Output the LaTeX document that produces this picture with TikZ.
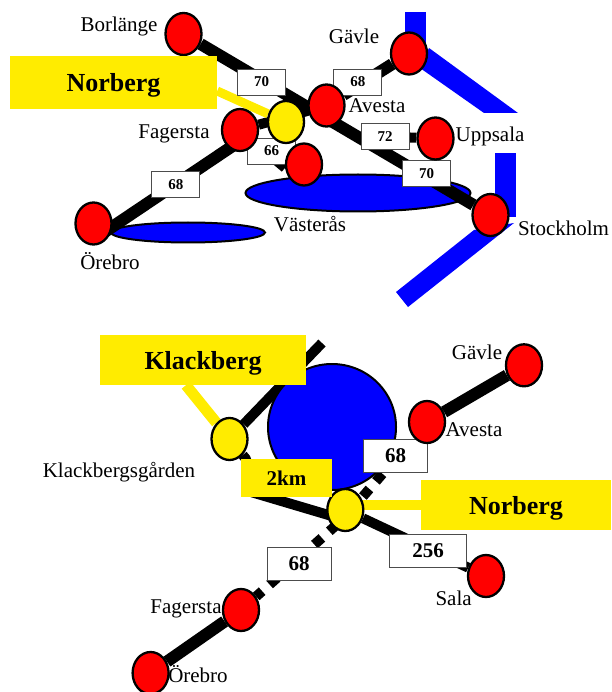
\documentclass[tikz,border=0pt]{standalone}
\usepackage{fontspec}
\setmainfont{Liberation Serif}
\usetikzlibrary{shapes.geometric}
\definecolor{stnred}{RGB}{255,0,0}
\definecolor{stnyel}{RGB}{255,236,0}
\definecolor{watblu}{RGB}{0,0,255}
\newcommand{\railw}{12pt}
\newcommand{\spurw}{10pt}
\pgfdeclarelayer{water}
\pgfdeclarelayer{rails}
\pgfsetlayers{water,rails,main}
\tikzset{
    station/.style={ellipse, draw=black, line width=2.3pt, fill=stnred, minimum width=36pt, minimum height=42pt, inner sep=0pt},
    halt/.style={station, fill=stnyel},
    lake/.style={ellipse, draw=black, line width=2pt, fill=watblu, inner sep=0pt},
    river/.style={fill=watblu},
    rail/.style={draw=black, line width=\railw, line join=round},
    spur/.style={rail, line width=\spurw},
    callout/.style={fill=stnyel, inner sep=0pt, text depth=0pt, font=\bfseries\fontsize{26}{26}\selectfont},
    feeder/.style={draw=stnyel, line width=10pt},
    gauge/.style={draw=black!70, line width=0.7pt, fill=white, inner sep=0pt, minimum width=48pt, minimum height=26pt, font=\bfseries\fontsize{15}{15}\selectfont},
    biggauge/.style={gauge, minimum width=64pt, minimum height=33pt, font=\bfseries\fontsize{21}{21}\selectfont},
    town/.style={inner sep=0pt, text depth=0pt, font=\fontsize{21}{21}\selectfont}
}
\begin{document}
\begin{tikzpicture}[x=1pt,y=-1pt]
    \useasboundingbox (0,0) rectangle (611,692);
    % upper map
    \node[gauge] (g70a) at (261.7,82) {70};
    \node[gauge] (g68a) at (357.8,82) {68};
    \node[gauge] (g72) at (385,136.5) {72};
    \node[gauge] (g70b) at (426.5,173.3) {70};
    \node[gauge] (g66) at (271.5,151) {66};
    \node[gauge] (g68b) at (175.8,184.7) {68};
    \node[station] (borl) at (183.5,34) {};
    \node[station] (gavl) at (409,53.5) {};
    \node[station] (aves) at (326.5,105.5) {};
    \node[station] (upps) at (435.5,138.5) {};
    \node[station] (fage) at (240,130) {};
    \node[station] (vast) at (304,164.5) {};
    \node[station] (stho) at (490.5,215) {};
    \node[station] (oreb) at (93.5,223.5) {};
    \node[halt] (norb) at (286,122) {};
    \node[callout, minimum width=207pt, minimum height=53pt] (norbbox) at (113.5,82.5) {Norberg};
    \node[town] (borllab) at (119,24) {Borlänge};
    \node[town] (gavllab) at (354,36) {Gävle};
    \node[town] (aveslab) at (377,106) {Avesta};
    \node[town] (fagelab) at (174,132) {Fagersta};
    \node[town] (uppslab) at (490,134) {Uppsala};
    \node[town] (vastlab) at (310,224) {Västerås};
    \node[town] (stholab) at (563.5,228) {Stockholm};
    \node[town] (oreblab) at (110,261) {Örebro};
    \begin{pgfonlayer}{water}
        \fill[river] (405,12) -- (426,12) -- (426,55) -- (405,55) -- cycle;
        \fill[river] (429,48) -- (518,113) -- (484,113) -- (420,68) -- cycle;
        \fill[river] (495,153) -- (516,153) -- (516,217) -- (495,217) -- cycle;
        \fill[river] (514,223) -- (408,307) -- (396,292) -- (474,230) -- cycle;
        \node[lake, minimum width=225pt, minimum height=37pt] (malaren) at (358,193) {};
        \node[lake, minimum width=154pt, minimum height=20pt] (hjalmaren) at (188,232.5) {};
    \end{pgfonlayer}
    \begin{pgfonlayer}{rails}
        \draw[rail] (borl) -- (stho);
        \draw[rail] (gavl) -- (aves);
        \draw[spur] (fage) -- (aves);
        \draw[spur] (g72) -- (upps);
        \draw[spur] (fage) -- (vast.-170);
        \draw[rail] ([yshift=-16pt]oreb.center) -- ([yshift=-11pt]fage.center);
        \draw[feeder, line width=9pt] ([yshift=-8.5pt]norbbox.east) -- (norb);
    \end{pgfonlayer}
    % lower map
    \node[biggauge] (g68c) at (395.5,455.5) {68};
    \node[biggauge] (g68d) at (299,563.7) {68};
    \node[biggauge, minimum width=77pt] (g256) at (428,551) {256};
    \node[station] (gavl2) at (524,365.3) {};
    \node[station] (aves2) at (427,422) {};
    \node[station] (sala) at (486,576) {};
    \node[station] (fage2) at (241,610) {};
    \node[station] (oreb2) at (150.6,673) {};
    \node[halt] (klackg) at (229.5,439) {};
    \node[halt] (norb2) at (345.3,510) {};
    \node[callout, minimum width=206pt, minimum height=50pt] (klackbox) at (203,360) {Klackberg};
    \node[callout, minimum width=190pt, minimum height=50pt] (norb2box) at (516,505) {Norberg};
    \node[callout, minimum width=91pt, minimum height=38pt, font=\bfseries\fontsize{21}{21}\selectfont] (kmbox) at (286.5,478) {2km};
    \node[town] (gavl2lab) at (477,352) {Gävle};
    \node[town] (aves2lab) at (474,430) {Avesta};
    \node[town] (klacklab) at (119,470) {Klackbergsgården};
    \node[town] (salalab) at (453.6,598) {Sala};
    \node[town] (fage2lab) at (186,607) {Fagersta};
    \node[town] (oreb2lab) at (198,674) {Örebro};
    \coordinate (klacktop) at (322,343);
    \coordinate (bendA) at (246,459);
    \coordinate (bendB) at (251,492);
    \coordinate (norbend) at ([yshift=-7pt]norb2.center);
    \begin{pgfonlayer}{water}
        \draw[spur] (klackg) -- (klacktop);
        \node[lake, minimum width=128pt, minimum height=126pt] (sjon) at (332,427) {};
    \end{pgfonlayer}
    \begin{pgfonlayer}{rails}
        \draw[rail] (gavl2) -- (aves2);
        \draw[rail] (oreb2) -- (fage2);
        \draw[spur, dash pattern=on 10pt off 10pt, dash phase=2pt] (fage2) -- (norbend);
        \draw[spur, dash pattern=on 10pt off 10pt, dash phase=13pt] (norbend) -- (aves2);
        \draw[spur] (klackg) -- (bendA) -- (bendB) -- ([yshift=-10pt]norb2.center);
        \draw[spur] (norb2) -- (sala);
        \draw[feeder, line width=11pt] ([xshift=-17pt]klackbox.south) -- (klackg);
        \draw[feeder] (norb2box.west) -- (norb2 |- norb2box.west);
    \end{pgfonlayer}
\end{tikzpicture}
\end{document}
